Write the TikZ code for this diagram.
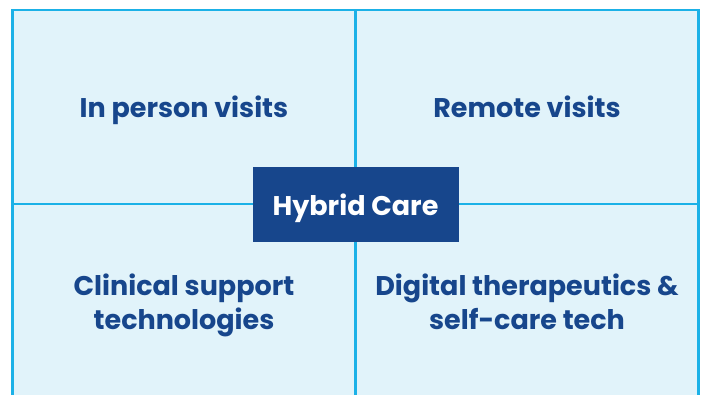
\documentclass[tikz,border=0pt]{standalone}
\usepackage{fontspec}
\setmainfont{Poppins}
\usetikzlibrary{positioning}
\definecolor{gridblue}{HTML}{1BB1E7}
\definecolor{paleblue}{HTML}{E1F3FA}
\definecolor{navy}{HTML}{17468C}
\begin{document}
\begin{tikzpicture}[x=1pt,y=-1pt,
	quad/.style={draw=gridblue,fill=paleblue,line width=2.4pt,minimum width=343pt,minimum height=194pt,
		inner sep=0pt,outer sep=0pt,align=center,text=navy,font=\bfseries\fontsize{27}{34}\selectfont},
	lowquad/.style={quad,minimum height=202pt},
	hub/.style={fill=navy,minimum width=206pt,minimum height=75pt,inner sep=0pt,text=white,
		text height=23pt,text depth=0pt,font=\bfseries\fontsize{27}{30}\selectfont}]
	\useasboundingbox (0,0) rectangle (702,394);
	\clip (0,0) rectangle (702,394);
	% four quadrants
	\node[quad,text depth=0pt] (inperson) at (184,107) {In person visits};
	\node[quad,text depth=0pt,right=0pt of inperson] (remote) {Remote visits};
	\node[lowquad,below=0pt of inperson] (clinical) {Clinical support\\technologies};
	\node[lowquad,below=0pt of remote] (digital) {Digital therapeutics \&\\self-care tech\vphantom{g}};
	% centre box
	\node[hub] (hybrid) at (inperson.south east) {Hybrid Care};
\end{tikzpicture}
\end{document}
